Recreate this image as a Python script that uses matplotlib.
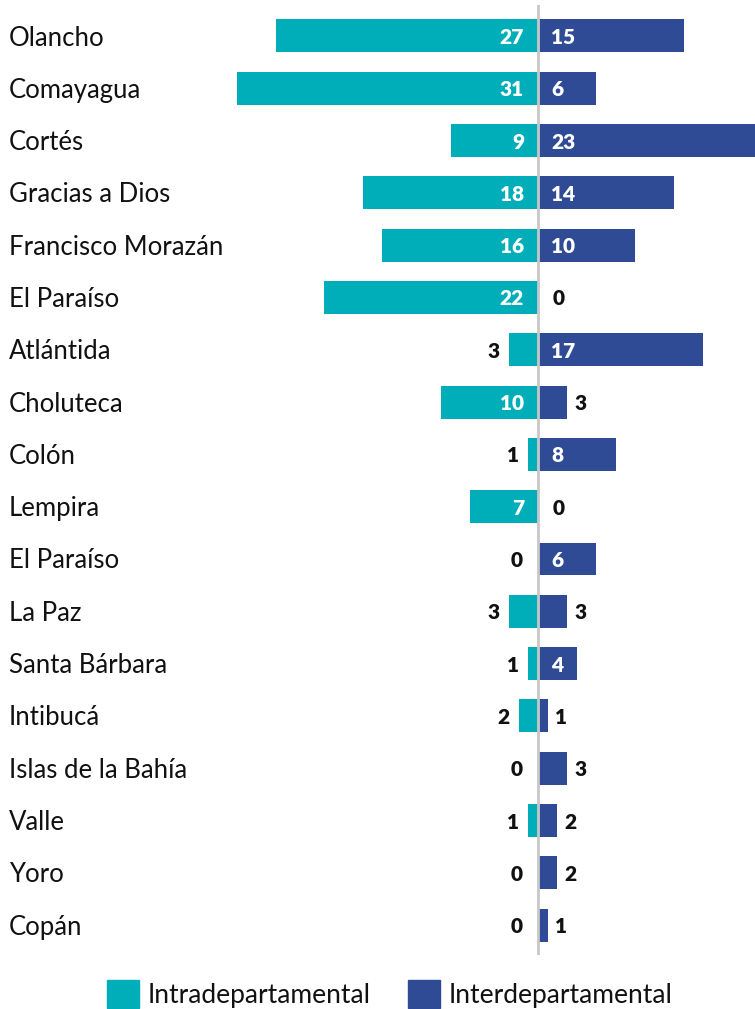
import matplotlib
matplotlib.use("Agg")
import matplotlib.pyplot as plt
from matplotlib.patches import Rectangle

plt.rcParams["font.family"] = ["Lato", "DejaVu Sans"]

#Data
departments = ["Olancho", "Comayagua", "Cortés", "Gracias a Dios", "Francisco Morazán",
               "El Paraíso", "Atlántida", "Choluteca", "Colón", "Lempira", "El Paraíso",
               "La Paz", "Santa Bárbara", "Intibucá", "Islas de la Bahía", "Valle", "Yoro", "Copán"]
intra = [27, 31, 9, 18, 16, 22, 3, 10, 1, 7, 0, 3, 1, 2, 0, 1, 0, 0]
inter = [15, 6, 23, 14, 10, 0, 17, 3, 8, 0, 6, 3, 4, 1, 3, 2, 2, 1]
legend_labels = ["Intradepartamental", "Interdepartamental"]

TEAL = "#00AEB9"
BLUE = "#2F4B96"

fig = plt.figure(figsize=(7.55, 10.09), dpi=100)
W, H = 755, 1009
ax = fig.add_axes([0, 1 - 955 / H, 1, (955 - 5) / H])

ypos = list(range(len(departments)))
ax.barh(ypos, [-v for v in intra], height=0.63, color=TEAL, zorder=2)
ax.barh(ypos, inter, height=0.63, color=BLUE, zorder=2)
ax.axvline(0, color="#c8c8c8", lw=2, zorder=3)

ax.set_xlim(-538 / 9.72, 217 / 9.72)
ax.set_ylim(17.57, -0.59)
ax.axis("off")

px = 1 / 9.72  # one pixel in data units
lab = dict(fontweight="heavy", fontsize=15, va="center", zorder=4)
for i, (a, b) in enumerate(zip(intra, inter)):
    #left side values
    if a >= 5:
        ax.text(-14 * px, i + 0.03, str(a), color="white", ha="right", **lab)
    else:
        ax.text(-a - 9 * px if a > 0 else -15 * px, i + 0.03, str(a), color="#111111",
                ha="right", **lab)
    #right side values
    if b >= 4:
        ax.text(13 * px, i + 0.03, str(b), color="white", ha="left", **lab)
    else:
        ax.text(b + 7 * px if b > 0 else 15 * px, i + 0.03, str(b), color="#111111",
                ha="left", **lab)

for i, name in enumerate(departments):
    y_fig = 1 - (38 + 52.3 * i) / H
    fig.text(9 / W, y_fig, name, fontsize=18.5, color="#111111", ha="left", va="center")

#legend drawn by hand
for x0, color, label in [(107, TEAL, legend_labels[0]), (408, BLUE, legend_labels[1])]:
    fig.patches.append(Rectangle((x0 / W, 1 - 1008 / H), 32 / W, 28 / H,
                                 transform=fig.transFigure, color=color))
    fig.text((x0 + 41) / W, 1 - 996 / H, label, fontsize=19, color="#111111",
             ha="left", va="center")

fig.savefig("out.png", dpi=100)
